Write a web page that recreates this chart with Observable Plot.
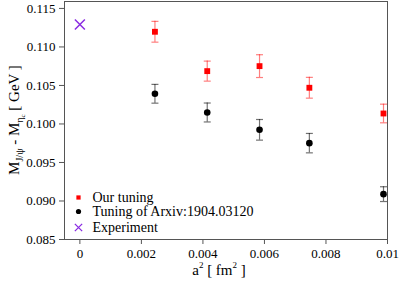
<!DOCTYPE html>
<html>
<head>
<meta charset="utf-8">
<script src="https://cdn.jsdelivr.net/npm/d3@7"></script>
<script src="https://cdn.jsdelivr.net/npm/@observablehq/plot@0.6"></script>
<style>
  html, body { margin: 0; padding: 0; background: #fff; }
  svg { display: block; }
  svg, svg text { font-family: "Times New Roman", Times, Tinos, "Liberation Serif", "DejaVu Serif", "Noto Serif", serif !important; }
</style>
</head>
<body>
<div id="chart"></div>
<script>
// a^2 values (fm^2)
const a2 = [0.00244, 0.00414, 0.00584, 0.00746, 0.00987];
// Our tuning
const ourMean = [0.11197, 0.10686, 0.10751, 0.10470, 0.10136];
const ourErr  = [0.00135, 0.00130, 0.00148, 0.00135, 0.00121];
// Tuning of Arxiv:1904.03120
const arxMean = [0.10392, 0.10149, 0.09924, 0.09751, 0.09089];
const arxErr  = [0.00122, 0.00123, 0.00134, 0.00126, 0.00096];
// Experiment
const expX = [0];
const expY = [0.11292];

const xTicks = [0, 0.002, 0.004, 0.006, 0.008, 0.01];
const yTicks = [0.085, 0.090, 0.095, 0.100, 0.105, 0.110, 0.115];
const legendLabels = ["Our tuning", "Tuning of Arxiv:1904.03120", "Experiment"];

const ours = a2.map((x, i) => ({x, y: ourMean[i], lo: ourMean[i] - ourErr[i], hi: ourMean[i] + ourErr[i]}));
const arx = a2.map((x, i) => ({x, y: arxMean[i], lo: arxMean[i] - arxErr[i], hi: arxMean[i] + arxErr[i]}));
const exp = expX.map((x, i) => ({x, y: expY[i]}));

const cap = {
  draw(ctx, size) {
    const r = Math.sqrt(size / Math.PI);
    ctx.moveTo(-r, 0);
    ctx.lineTo(r, 0);
  }
};

const font = "'Times New Roman', Times, Tinos, 'Liberation Serif', 'DejaVu Serif', serif";
const red = "#ff0000";
const purple = "#8a2be2";

const legendItems = [
  {label: legendLabels[0], symbol: "square", fill: red, stroke: "none", r: 2.4, dy: -42},
  {label: legendLabels[1], symbol: "circle", fill: "#000", stroke: "none", r: 2.6, dy: -28},
  {label: legendLabels[2], symbol: "times", fill: "none", stroke: purple, r: 3.4, dy: -12}
];

const capMarks = (data, color, op) => [
  Plot.ruleX(data, {x: "x", y1: "lo", y2: "hi", stroke: color, strokeOpacity: op, strokeWidth: 1.2}),
  Plot.dot(data, {x: "x", y: "lo", symbol: cap, r: 3.5, stroke: color, strokeOpacity: op, strokeWidth: 1.2}),
  Plot.dot(data, {x: "x", y: "hi", symbol: cap, r: 3.5, stroke: color, strokeOpacity: op, strokeWidth: 1.2})
];

const chart = Plot.plot({
  width: 399,
  height: 281,
  marginLeft: 64,
  marginRight: 12,
  marginTop: 1,
  marginBottom: 42,
  style: {fontFamily: font, fontSize: "13px", background: "#fff", color: "#000", overflow: "visible"},
  x: {domain: [-0.0005, 0.01], ticks: xTicks, tickFormat: d => d === 0 ? "0" : d3.format(".3~f")(d), tickSize: 5, tickPadding: 4, label: null},
  y: {domain: [0.085, 0.1159], ticks: yTicks, tickFormat: d3.format(".3f"), tickSize: 5, tickPadding: 4, label: null},
  marks: [
    Plot.frame({stroke: "#555", strokeWidth: 1}),
    ...capMarks(ours, red, 0.5),
    ...capMarks(arx, "#000", 0.55),
    Plot.dot(ours, {x: "x", y: "y", symbol: "square", r: 3.3, fill: red}),
    Plot.dot(arx, {x: "x", y: "y", symbol: "circle", r: 3.3, fill: "#000"}),
    Plot.dot(exp, {x: "x", y: "y", symbol: "times", r: 4.6, stroke: purple, strokeWidth: 1.5}),
    // legend
    ...legendItems.map(d => Plot.dot([d], {frameAnchor: "bottom-left", dx: 14, dy: d.dy, symbol: d.symbol, r: d.r, fill: d.fill, stroke: d.stroke, strokeWidth: 1.3})),
    ...legendItems.map(d => Plot.text([d], {frameAnchor: "bottom-left", dx: 28, dy: d.dy, text: "label", textAnchor: "start", lineAnchor: "middle", fontSize: 14, fill: "#000"}))
  ]
});

const svg = d3.select(chart);
svg.selectAll("[aria-label='x-axis tick'] path, [aria-label='y-axis tick'] path").attr("stroke", "#555");

// y axis label
const yl = svg.append("text")
  .attr("transform", "translate(19,120) rotate(-90)")
  .attr("text-anchor", "middle")
  .attr("font-family", font)
  .attr("font-size", 15)
  .attr("fill", "#000");
yl.append("tspan").text("M");
yl.append("tspan").attr("dy", 4).attr("font-size", 10).text("J/\u03C8");
yl.append("tspan").attr("dy", -4).text(" - M");
yl.append("tspan").attr("dy", 4).attr("font-size", 10).text("\u03B7");
yl.append("tspan").attr("dy", 2).attr("font-size", 7).text("c");
yl.append("tspan").attr("dy", -6).text(" [ GeV ]");

// x axis label
const xl = svg.append("text")
  .attr("x", 219)
  .attr("y", 275)
  .attr("text-anchor", "middle")
  .attr("font-family", font)
  .attr("font-size", 15)
  .attr("fill", "#000");
xl.append("tspan").text("a");
xl.append("tspan").attr("dy", -7).attr("font-size", 9).text("2");
xl.append("tspan").attr("dy", 7).text(" [ fm");
xl.append("tspan").attr("dy", -7).attr("font-size", 9).text("2");
xl.append("tspan").attr("dy", 7).text(" ]");

document.getElementById("chart").appendChild(chart);
</script>
</body>
</html>
